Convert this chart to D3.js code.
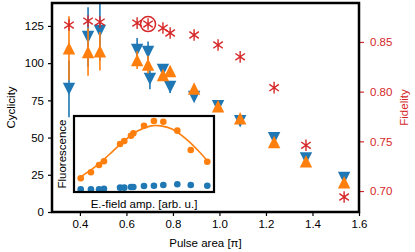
<!DOCTYPE html>
<html>
<head>
<meta charset="utf-8">
<script src="https://cdn.jsdelivr.net/npm/d3@7"></script>
<style>
  body { margin: 0; background: #fff; }
  svg { display: block; font-family: "Liberation Sans", Arial, sans-serif; }
</style>
</head>
<body>
<svg id="chart" width="415" height="252"></svg>
<script>
// pulse area [pi] and cyclicity, blue (down triangles)
const blueX = [0.353, 0.435, 0.486, 0.646, 0.693, 0.701, 0.757, 0.788, 0.891, 0.994, 1.089, 1.235, 1.372, 1.536];
const blueY = [82.7, 117.6, 121.6, 108.9, 107.5, 89.4, 95.4, 84.0, 77.3, 71.0, 61.0, 49.5, 36.0, 22.8];
const blueErr = [19, 20, 20, 8, 7, 7, 4, 4, 0, 0, 0, 0, 0, 0];

// orange (up triangles)
const orangeX = [0.353, 0.435, 0.486, 0.646, 0.693, 0.757, 0.788, 0.891, 0.994, 1.089, 1.235, 1.372, 1.536];
const orangeY = [110, 107.5, 108, 102, 99, 92, 94.7, 83, 71, 63, 47, 34, 20];
const orangeErr = [21.5, 16, 13, 6, 6, 3, 3, 0, 0, 0, 0, 0, 0];

// fidelity (red stars), right axis
const fidX = [0.353, 0.435, 0.486, 0.646, 0.693, 0.757, 0.788, 0.891, 0.994, 1.089, 1.235, 1.372, 1.536];
const fidY = [0.867, 0.871, 0.870, 0.869, 0.868, 0.864, 0.859, 0.857, 0.847, 0.835, 0.804, 0.746, 0.694];
const fidCircled = 4; // index of the circled point

const xTicks = [0.4, 0.6, 0.8, 1.0, 1.2, 1.4, 1.6];
const yTicks = [0, 25, 50, 75, 100, 125];
const fTicks = [0.70, 0.75, 0.80, 0.85];

// inset: fluorescence vs field amplitude (arb. units)
const insetX = [0.048, 0.121, 0.179, 0.214, 0.329, 0.359, 0.407, 0.424, 0.5, 0.571, 0.638, 0.738, 0.834, 0.952];
const insetOrange = [0.18, 0.259, 0.355, 0.404, 0.632, 0.671, 0.741, 0.772, 0.872, 0.934, 0.925, 0.807, 0.553, 0.399];
const insetBlue = [0.036, 0.036, 0.036, 0.043, 0.057, 0.057, 0.066, 0.066, 0.079, 0.083, 0.092, 0.101, 0.092, 0.083];
// fitted curve
const fitX = [0.048, 0.15, 0.25, 0.35, 0.45, 0.55, 0.62, 0.70, 0.80, 0.90, 0.952];
const fitY = [0.20, 0.33, 0.49, 0.66, 0.80, 0.87, 0.87, 0.83, 0.70, 0.52, 0.41];

const BLUE = "#1f77b4", ORANGE = "#ff7f0e", RED = "#d62728";
const FS = "11.5px";

const svg = d3.select("#chart");
const L = 52, R = 359, T = 3, B = 212;

const x = d3.scaleLinear().domain([0.28, 1.6]).range([L, R]);
const y = d3.scaleLinear().domain([0, 140.4]).range([B, T]);
const yf = d3.scaleLinear().domain([0.6789, 0.8892]).range([B, T]);

// axes
const xAxis = svg.append("g")
  .attr("transform", `translate(0,${B})`)
  .call(d3.axisBottom(x).tickValues(xTicks).tickFormat(d3.format(".1f")).tickSize(4).tickPadding(4));
const yAxis = svg.append("g")
  .attr("transform", `translate(${L},0)`)
  .call(d3.axisLeft(y).tickValues(yTicks).tickSize(4).tickPadding(4));
const fAxis = svg.append("g")
  .attr("transform", `translate(${R},0)`)
  .call(d3.axisRight(yf).tickValues(fTicks).tickFormat(d3.format(".2f")).tickSize(5).tickPadding(6));

[xAxis, yAxis, fAxis].forEach(g => {
  g.select(".domain").remove();
  g.selectAll("text").style("font-size", FS).attr("fill", "#000");
  g.selectAll("line").attr("stroke", "#000").attr("stroke-width", 1.2);
});
fAxis.selectAll("text").attr("fill", RED);
fAxis.selectAll("line").attr("stroke", RED);

const plot = svg.append("g");
svg.append("defs").append("clipPath").attr("id", "clip")
  .append("rect").attr("x", L).attr("y", T).attr("width", R - L).attr("height", B - T);
plot.attr("clip-path", "url(#clip)");

function triPath(up, s) {
  return up ? `M0,${-s}L${s},${s}L${-s},${s}Z` : `M0,${s}L${s},${-s}L${-s},${-s}Z`;
}

function drawSeries(xs, ys, errs, color, up) {
  const data = xs.map((d, i) => ({ x: d, y: ys[i], e: errs[i] }));
  plot.selectAll(null).data(data.filter(d => d.e > 0)).enter().append("line")
    .attr("x1", d => x(d.x)).attr("x2", d => x(d.x))
    .attr("y1", d => y(d.y - d.e)).attr("y2", d => y(d.y + d.e))
    .attr("stroke", color).attr("stroke-width", 1.6);
  plot.selectAll(null).data(data).enter().append("path")
    .attr("d", triPath(up, 6.2))
    .attr("transform", d => `translate(${x(d.x)},${y(d.y)})`)
    .attr("fill", color);
}
drawSeries(blueX, blueY, blueErr, BLUE, false);
drawSeries(orangeX, orangeY, orangeErr, ORANGE, true);

// stars
function starPath(r) {
  const a = Math.PI / 180 * 35;
  const dx = r * Math.cos(a), dy = r * Math.sin(a);
  return `M0,${-r}L0,${r}M${-dx},${-dy}L${dx},${dy}M${-dx},${dy}L${dx},${-dy}`;
}
const fid = fidX.map((d, i) => ({ x: d, y: fidY[i], i }));
plot.selectAll(null).data(fid).enter().append("path")
  .attr("d", starPath(5.8))
  .attr("transform", d => `translate(${x(d.x)},${yf(d.y)})`)
  .attr("stroke", RED).attr("stroke-width", 1.4).attr("fill", "none");
plot.append("circle")
  .attr("cx", x(fidX[fidCircled])).attr("cy", yf(fidY[fidCircled]))
  .attr("r", 7.5).attr("fill", "none").attr("stroke", RED).attr("stroke-width", 1.5);

// frame
svg.append("rect").attr("x", L).attr("y", T).attr("width", R - L).attr("height", B - T)
  .attr("fill", "none").attr("stroke", "#000").attr("stroke-width", 2.5);

// labels
svg.append("text").attr("x", (L + R) / 2).attr("y", 247).attr("text-anchor", "middle")
  .style("font-size", FS).text("Pulse area [π]");
svg.append("text").attr("transform", `translate(15,${(T + B) / 2}) rotate(-90)`)
  .attr("text-anchor", "middle").style("font-size", FS).text("Cyclicity");
svg.append("text").attr("transform", `translate(408,${(T + B) / 2}) rotate(-90)`)
  .attr("text-anchor", "middle").style("font-size", FS).attr("fill", RED).text("Fidelity");

// inset
const iL = 74, iR = 214, iT = 116, iB = 192;
const ix = d3.scaleLinear().domain([0, 1]).range([iL, iR]);
const iy = d3.scaleLinear().domain([0, 1]).range([iB, iT]);
const inset = svg.append("g");
inset.append("rect").attr("x", iL).attr("y", iT).attr("width", iR - iL).attr("height", iB - iT)
  .attr("fill", "#fff");
inset.append("path")
  .datum(fitX.map((d, i) => [d, fitY[i]]))
  .attr("d", d3.line().x(d => ix(d[0])).y(d => iy(d[1])).curve(d3.curveCatmullRom))
  .attr("fill", "none").attr("stroke", ORANGE).attr("stroke-width", 1.6);
inset.selectAll(null).data(insetX.map((d, i) => [d, insetOrange[i]])).enter().append("circle")
  .attr("cx", d => ix(d[0])).attr("cy", d => iy(d[1])).attr("r", 3.3).attr("fill", ORANGE);
inset.selectAll(null).data(insetX.map((d, i) => [d, insetBlue[i]])).enter().append("circle")
  .attr("cx", d => ix(d[0])).attr("cy", d => iy(d[1])).attr("r", 3.3).attr("fill", BLUE);
inset.append("rect").attr("x", iL).attr("y", iT).attr("width", iR - iL).attr("height", iB - iT)
  .attr("fill", "none").attr("stroke", "#000").attr("stroke-width", 2.2);
svg.append("text").attr("x", (iL + iR) / 2).attr("y", 208).attr("text-anchor", "middle")
  .style("font-size", FS).text("E.-field amp. [arb. u.]");
svg.append("text").attr("transform", `translate(66,${(iT + iB) / 2}) rotate(-90)`)
  .attr("text-anchor", "middle").style("font-size", FS).text("Fluorescence");
</script>
</body>
</html>
